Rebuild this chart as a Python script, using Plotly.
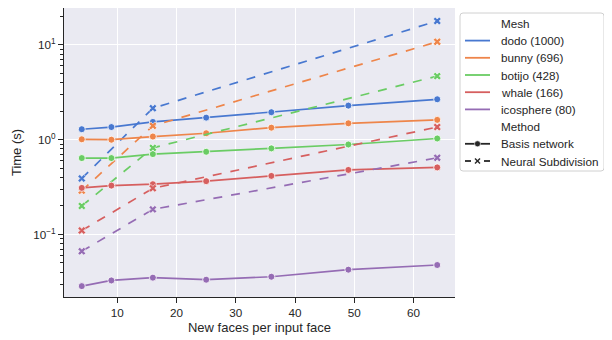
import plotly.graph_objects as go

meshes = ["dodo (1000)", "bunny (696)", "botijo (428)", "whale (166)", "icosphere (80)"]
colors = ["#4878d0", "#ee854a", "#6acc64", "#d65f5f", "#956cb4"]
methods = ["Basis network", "Neural Subdivision"]

x_basis = [4, 9, 16, 25, 36, 49, 64]
basis = {
    "dodo (1000)": [1.29, 1.36, 1.54, 1.71, 1.95, 2.29, 2.67],
    "bunny (696)": [1.01, 1.00, 1.08, 1.17, 1.34, 1.49, 1.62],
    "botijo (428)": [0.64, 0.64, 0.705, 0.746, 0.81, 0.89, 1.03],
    "whale (166)": [0.31, 0.328, 0.339, 0.365, 0.415, 0.48, 0.51],
    "icosphere (80)": [0.0285, 0.0327, 0.035, 0.0333, 0.0358, 0.0425, 0.0476],
}
x_ns = [4, 16, 64]
neural = {
    "dodo (1000)": [0.39, 2.15, 17.9],
    "bunny (696)": [0.29, 1.40, 10.8],
    "botijo (428)": [0.20, 0.82, 4.69],
    "whale (166)": [0.110, 0.307, 1.36],
    "icosphere (80)": [0.0665, 0.184, 0.644],
}

FONT = "Liberation Sans, Arial, sans-serif"
INK = "#262626"

fig = go.Figure()
for m, c in zip(meshes, colors):
    fig.add_trace(go.Scatter(x=x_basis, y=basis[m], mode="lines+markers",
                             line=dict(color=c, width=1.7),
                             marker=dict(symbol="circle", size=7, color=c, line=dict(color="white", width=0.8)),
                             showlegend=False))
    fig.add_trace(go.Scatter(x=x_ns, y=neural[m], mode="lines+markers",
                             line=dict(color=c, width=1.7, dash="dash"),
                             marker=dict(symbol="x", size=7, color=c, line=dict(color="white", width=0.6)),
                             showlegend=False))

# ---- hand-built legend (figure is offset 8px by the page margin) ----
PL, PR, PT, PB = 56, 447, 0, 289  # plot area in figure pixels
def px(X):
    return (X - PL) / (PR - PL)
def py(Y):
    return (PB - Y) / (PB - PT)

shapes = []
annotations = []
bx0, bx1, by0, by1, r = 452, 596, 5, 163, 3
rx, ry = r / (PR - PL), r / (PB - PT)
path = (f"M {px(bx0)+rx},{py(by0)} L {px(bx1)-rx},{py(by0)} Q {px(bx1)},{py(by0)} {px(bx1)},{py(by0)-ry} "
        f"L {px(bx1)},{py(by1)+ry} Q {px(bx1)},{py(by1)} {px(bx1)-rx},{py(by1)} "
        f"L {px(bx0)+rx},{py(by1)} Q {px(bx0)},{py(by1)} {px(bx0)},{py(by1)+ry} "
        f"L {px(bx0)},{py(by0)-ry} Q {px(bx0)},{py(by0)} {px(bx0)+rx},{py(by0)} Z")
shapes.append(dict(type="path", xref="paper", yref="paper", path=path,
                   fillcolor="rgba(255,255,255,0.85)", line=dict(color="#d0d0d0", width=1), layer="above"))

rows = ["Mesh"] + meshes + ["Method"] + methods
row0, step = 15.4, 17.2
lx0, lx1, tx = 457, 482, 491
for i, label in enumerate(rows):
    Y = row0 + i * step
    annotations.append(dict(xref="paper", yref="paper", x=px(tx), y=py(Y), text=label,
                            showarrow=False, xanchor="left", yanchor="middle",
                            font=dict(family=FONT, size=11.7, color=INK)))
    if label in meshes:
        c = colors[meshes.index(label)]
        shapes.append(dict(type="line", xref="paper", yref="paper", x0=px(lx0), x1=px(lx1),
                           y0=py(Y), y1=py(Y), line=dict(color=c, width=1.8), layer="above"))
    elif label in methods:
        mx = px((lx0 + lx1) / 2)
        if label == "Basis network":
            shapes.append(dict(type="line", xref="paper", yref="paper", x0=px(lx0), x1=px(lx1),
                               y0=py(Y), y1=py(Y), line=dict(color=INK, width=1.8), layer="above"))
            shapes.append(dict(type="circle", xref="paper", yref="paper", xsizemode="pixel", ysizemode="pixel",
                               xanchor=mx, yanchor=py(Y), x0=-3, x1=3, y0=-3, y1=3,
                               fillcolor=INK, line=dict(color="white", width=0.6), layer="above"))
        else:
            shapes.append(dict(type="line", xref="paper", yref="paper", x0=px(lx0), x1=px(lx0 + 6),
                               y0=py(Y), y1=py(Y), line=dict(color=INK, width=1.8), layer="above"))
            shapes.append(dict(type="line", xref="paper", yref="paper", x0=px(lx1 - 6), x1=px(lx1),
                               y0=py(Y), y1=py(Y), line=dict(color=INK, width=1.8), layer="above"))
            for sx, sy in [(1, 1), (1, -1)]:
                shapes.append(dict(type="line", xref="paper", yref="paper", xsizemode="pixel", ysizemode="pixel",
                                   xanchor=mx, yanchor=py(Y), x0=-2.5 * sx, x1=2.5 * sx, y0=-2.5 * sy, y1=2.5 * sy,
                                   line=dict(color=INK, width=1.4), layer="above"))

fig.update_layout(
    width=604, height=332,
    margin=dict(l=PL, r=604 - PR, t=PT, b=332 - PB),
    paper_bgcolor="white", plot_bgcolor="#eaeaf2",
    font=dict(family=FONT, size=11.7, color=INK),
    showlegend=False,
    shapes=shapes, annotations=annotations,
)
fig.update_xaxes(range=[1.0, 67.0], tickvals=[10, 20, 30, 40, 50, 60],
                 showgrid=True, gridcolor="white", gridwidth=1,
                 showline=True, linecolor=INK, linewidth=1.25,
                 ticks="outside", ticklen=5, tickcolor=INK, tickwidth=1,
                 zeroline=False,
                 title=dict(text="New faces per input face", font=dict(size=13), standoff=4))
fig.update_yaxes(type="log", range=[-1.66, 1.39],
                 tickvals=[0.1, 1, 10],
                 ticktext=["10<sup>−1</sup>", "10<sup>0</sup>", "10<sup>1</sup>"],
                 showgrid=True, gridcolor="white", gridwidth=1,
                 showline=True, linecolor=INK, linewidth=1.25,
                 ticks="outside", ticklen=5, tickcolor=INK, tickwidth=1,
                 minor=dict(ticks="outside", ticklen=3, tickcolor=INK, showgrid=False,
                            tickvals=[0.03, 0.04, 0.05, 0.06, 0.07, 0.08, 0.09,
                                      0.2, 0.3, 0.4, 0.5, 0.6, 0.7, 0.8, 0.9,
                                      2, 3, 4, 5, 6, 7, 8, 9, 20]),
                 zeroline=False,
                 title=dict(text="Time (s)", font=dict(size=13), standoff=8))

fig.write_html("out.html")
